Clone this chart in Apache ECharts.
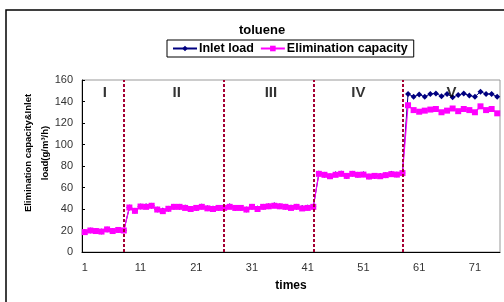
<!DOCTYPE html>
<html>
<head>
<meta charset="utf-8">
<script src="https://cdn.jsdelivr.net/npm/echarts@6/dist/echarts.min.js"></script>
<style>
  html, body { margin: 0; padding: 0; background: #fff; }
  #myChart { width: 504px; height: 302px; }
</style>
</head>
<body>
<div id="myChart"></div>
<script>
// times 1..75
var times = [];
for (var i = 1; i <= 75; i++) times.push(String(i));

// Elimination capacity (g/m3/h)
var ecPhaseI   = [18.5, 20, 19.5, 19, 21, 19.5, 20.5, 20];
var ecPhaseII  = [41.4, 38.3, 42.3, 42, 43, 39.5, 38, 40.2, 42, 42, 41, 40, 41, 42, 40.6, 40, 41, 41];
var ecPhaseIII = [42, 41, 41, 39.5, 42, 40, 42, 42.5, 43, 42.5, 42, 41, 42, 40.5, 41, 42];
var ecPhaseIV  = [72.7, 71.8, 70.5, 71.8, 72.7, 70.8, 72.7, 71.8, 72, 70.2, 70.8, 70.5, 71.5, 72.4, 72, 73.4];
var ecPhaseV   = [136.5, 132, 130.5, 131.5, 132.5, 133, 130, 131.5, 133.5, 131, 133, 132, 130, 135.5, 132, 133, 129];

// Inlet load (g/m3/h)
var inPhaseI   = [18.5, 20, 19.5, 19, 21, 19.5, 20.5, 20];
var inPhaseII  = [41.4, 38.3, 42.3, 42.5, 43, 39.5, 38.5, 40.2, 42, 42, 41.5, 40, 41, 42.3, 40.6, 40.5, 41, 41];
var inPhaseIII = [42.5, 41, 41, 39.5, 42, 40.5, 42, 42.5, 43.5, 42.5, 42, 41.5, 42, 41, 41.5, 42];
var inPhaseIV  = [73, 71.8, 70.5, 72.3, 73, 70.8, 72.7, 71.8, 72.3, 70.2, 70.8, 70.8, 71.5, 72.8, 72, 73.6];
var inPhaseV   = [147, 144.5, 146.5, 144.5, 147, 147.5, 145, 147, 144, 146, 147.5, 145.5, 144.5, 149, 147, 147, 144.5];

var ecData = ecPhaseI.concat(ecPhaseII, ecPhaseIII, ecPhaseIV, ecPhaseV);
var inletData = inPhaseI.concat(inPhaseII, inPhaseIII, inPhaseIV, inPhaseV);

// phase boundaries (times) and phase labels [x, y, text]
var phaseBounds = [8, 26, 42, 58];
var phaseLabels = [[4.6, 148, 'I'], [17.5, 148, 'II'], [34.4, 148, 'III'], [50.1, 148, 'IV'], [66.8, 148, 'V']];

var yTicks = { min: 0, max: 160, interval: 20 };

var font = '"Liberation Sans", Arial, sans-serif';
var myChart = echarts.init(document.getElementById('myChart'));
var option = {
  animation: false,
  textStyle: { fontFamily: font },
  title: {
    text: 'toluene',
    left: 257, top: 19, textAlign: 'center',
    textStyle: { fontSize: 13, fontWeight: 'bold', color: '#000', fontFamily: font }
  },
  legend: {
    data: ['Inlet load', 'Elimination capacity'],
    left: 167, top: 40,
    itemWidth: 24, itemHeight: 7, itemGap: 6,
    padding: [2, 6, 2, 5],
    borderColor: '#000', borderWidth: 1,
    textStyle: { fontSize: 12.5, fontWeight: 'bold', color: '#000', fontFamily: font, padding: [0, 0, 0, -3] }
  },
  graphic: [{
    type: 'rect', shape: { x: 6, y: 10, width: 520, height: 310 },
    style: { fill: 'none', stroke: '#000', lineWidth: 1.5 }, silent: true
  }],
  grid: { left: 82, right: 4, top: 80, bottom: 50, show: true, borderColor: '#999', borderWidth: 1 },
  xAxis: [{
    type: 'category',
    data: times,
    boundaryGap: true,
    name: 'times', nameLocation: 'middle', nameGap: 28,
    nameTextStyle: { fontSize: 12, fontWeight: 'bold', color: '#000', fontFamily: font },
    axisLine: { lineStyle: { color: '#000', width: 1 } },
    axisTick: { inside: true, length: 3, interval: 0, lineStyle: { color: '#000' } },
    axisLabel: { interval: 9, margin: 10, fontSize: 11, color: '#333', fontFamily: font },
    splitLine: { show: false }
  }, {
    type: 'value', min: 0.5, max: 75.5, show: false
  }],
  yAxis: {
    type: 'value',
    min: yTicks.min, max: yTicks.max, interval: yTicks.interval,
    name: 'Elimination capacity&Inlet\nload(g/m\u00b3/h)',
    nameLocation: 'middle', nameGap: 28, nameMoveOverlap: false,
    nameTextStyle: { fontSize: 9.5, fontWeight: 'bold', color: '#000', fontFamily: font, lineHeight: 17, padding: [0, 0, 0, 26] },
    axisLine: { show: true, lineStyle: { color: '#000', width: 1 } },
    axisTick: { show: true, inside: true, length: 3, lineStyle: { color: '#000' } },
    axisLabel: { margin: 9, fontSize: 11, color: '#333', fontFamily: font },
    splitLine: { show: false }
  },
  series: [{
    name: 'Inlet load',
    type: 'line',
    data: inletData,
    symbol: 'diamond', symbolSize: 6, showAllSymbol: true,
    itemStyle: { color: '#000080' },
    lineStyle: { color: '#000080', width: 1 },
    z: 2
  }, {
    name: 'Elimination capacity',
    type: 'line',
    data: ecData,
    symbol: 'rect', symbolSize: 6, showAllSymbol: true,
    itemStyle: { color: '#FF00FF' },
    lineStyle: { color: '#FF00FF', width: 1.2 },
    z: 3
  }, {
    name: 'phase',
    type: 'scatter',
    xAxisIndex: 1,
    data: phaseLabels,
    symbolSize: 0,
    silent: true,
    label: {
      show: true, position: 'inside',
      formatter: function (p) { return p.value[2]; },
      fontSize: 15, fontWeight: 'bold', color: '#000', fontFamily: font
    },
    markLine: {
      silent: true, symbol: 'none',
      label: { show: false },
      lineStyle: { color: '#A50034', type: [3, 2], width: 2 },
      data: phaseBounds.map(function (b) { return { xAxis: b }; })
    },
    z: 4
  }]
};
myChart.setOption(option, true);
</script>
</body>
</html>
